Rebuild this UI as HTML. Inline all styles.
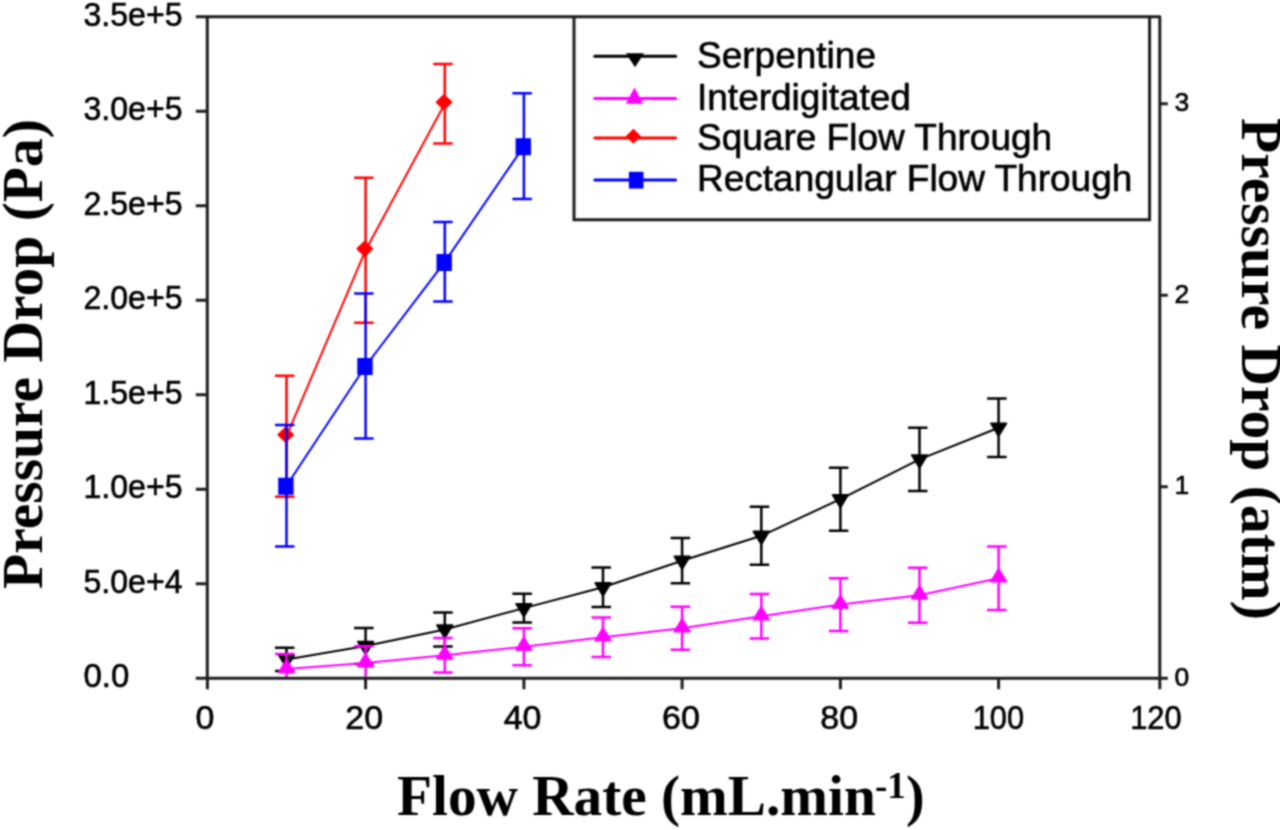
<!DOCTYPE html>
<html><head><meta charset="utf-8"><title>Pressure Drop vs Flow Rate</title>
<style>html,body{margin:0;padding:0;background:#fff;}body{width:1280px;height:830px;overflow:hidden;}svg{display:block;} #w{width:1280px;height:830px;}.s{font-family:"Liberation Sans",sans-serif;fill:#000;stroke:#000;stroke-width:0.6px;}.t{font-family:"Liberation Serif",serif;font-weight:bold;fill:#000;}</style></head><body>
<div id="w">
<svg width="1280" height="830" viewBox="0 0 1280 830">
<defs><filter id="bl" x="0" y="0" width="1280" height="830" filterUnits="userSpaceOnUse" color-interpolation-filters="sRGB"><feConvolveMatrix order="5" kernelMatrix="0.0019 0.0201 0.0439 0.0201 0.0019 0.0201 0.2096 0.4578 0.2096 0.0201 0.0439 0.4578 1.0000 0.4578 0.0439 0.0201 0.2096 0.4578 0.2096 0.0201 0.0019 0.0201 0.0439 0.0201 0.0019" divisor="4.0142" edgeMode="duplicate"/></filter></defs>
<g filter="url(#bl)">
<rect x="0" y="0" width="1280" height="830" fill="#fff"/>
<defs><clipPath id="pc"><rect x="207.3" y="16.7" width="952.5" height="661.5"/></clipPath></defs>
<g clip-path="url(#pc)">
<polyline points="286.5,659.4 365.6,646.0 444.8,629.5 523.9,608.1 603.0,587.3 682.1,560.7 761.3,535.8 840.4,499.2 919.5,459.4 998.6,427.7" fill="none" stroke="#000" stroke-width="2.0" stroke-linejoin="round"/>
<path d="M286.5 647.8V671.0M275.0 647.8h19.5M275.0 671.0h19.5M365.6 628.1V663.9M354.1 628.1h19.5M354.1 663.9h19.5M444.8 612.5V646.5M433.2 612.5h19.5M433.2 646.5h19.5M523.9 593.7V622.5M512.4 593.7h19.5M512.4 622.5h19.5M603.0 567.6V607.0M591.5 567.6h19.5M591.5 607.0h19.5M682.1 538.1V583.3M670.6 538.1h19.5M670.6 583.3h19.5M761.3 506.8V564.8M749.7 506.8h19.5M749.7 564.8h19.5M840.4 467.7V530.7M828.9 467.7h19.5M828.9 530.7h19.5M919.5 427.7V491.1M908.0 427.7h19.5M908.0 491.1h19.5M998.6 398.5V456.9M987.1 398.5h19.5M987.1 456.9h19.5" fill="none" stroke="#000" stroke-width="2.5"/>
<path d="M278.8 655.1L294.3 655.1L286.5 667.8ZM357.9 641.7L373.4 641.7L365.6 654.4ZM437.0 625.2L452.5 625.2L444.8 637.9ZM516.1 603.8L531.6 603.8L523.9 616.5ZM595.3 583.0L610.8 583.0L603.0 595.7ZM674.4 556.4L689.9 556.4L682.1 569.1ZM753.5 531.5L769.0 531.5L761.3 544.2ZM832.6 494.9L848.1 494.9L840.4 507.6ZM911.8 455.1L927.3 455.1L919.5 467.8ZM990.9 423.4L1006.4 423.4L998.6 436.1Z" fill="#000" stroke="#000" stroke-width="1.8" stroke-linejoin="round"/>
<polyline points="286.5,669.0 365.6,663.0 444.8,655.3 523.9,646.7 603.0,637.2 682.1,628.2 761.3,616.2 840.4,604.6 919.5,595.2 998.6,578.2" fill="none" stroke="#ff00ff" stroke-width="2.0" stroke-linejoin="round"/>
<path d="M286.5 654.1V683.9M275.0 654.1h19.5M275.0 683.9h19.5M365.6 646.2V679.8M354.1 646.2h19.5M354.1 679.8h19.5M444.8 638.0V672.6M433.2 638.0h19.5M433.2 672.6h19.5M523.9 628.2V665.2M512.4 628.2h19.5M512.4 665.2h19.5M603.0 617.5V656.9M591.5 617.5h19.5M591.5 656.9h19.5M682.1 606.7V649.7M670.6 606.7h19.5M670.6 649.7h19.5M761.3 594.0V638.4M749.7 594.0h19.5M749.7 638.4h19.5M840.4 578.2V631.0M828.9 578.2h19.5M828.9 631.0h19.5M919.5 567.7V622.7M908.0 567.7h19.5M908.0 622.7h19.5M998.6 546.5V609.9M987.1 546.5h19.5M987.1 609.9h19.5" fill="none" stroke="#ff00ff" stroke-width="2.5"/>
<path d="M278.8 672.5L294.3 672.5L286.5 659.8ZM357.9 666.5L373.4 666.5L365.6 653.8ZM437.0 658.8L452.5 658.8L444.8 646.1ZM516.1 650.2L531.6 650.2L523.9 637.5ZM595.3 640.7L610.8 640.7L603.0 628.0ZM674.4 631.7L689.9 631.7L682.1 619.0ZM753.5 619.7L769.0 619.7L761.3 607.0ZM832.6 608.1L848.1 608.1L840.4 595.4ZM911.8 598.7L927.3 598.7L919.5 586.0ZM990.9 581.7L1006.4 581.7L998.6 569.0Z" fill="#ff00ff" stroke="#ff00ff" stroke-width="1.8" stroke-linejoin="round"/>
<polyline points="286.5,436.2 365.6,250.3 444.8,103.8" fill="none" stroke="#ff0000" stroke-width="2.0" stroke-linejoin="round"/>
<path d="M286.5 375.7V496.7M275.0 375.7h19.5M275.0 496.7h19.5M365.6 177.8V322.8M354.1 177.8h19.5M354.1 322.8h19.5M444.8 64.0V143.6M433.2 64.0h19.5M433.2 143.6h19.5" fill="none" stroke="#ff0000" stroke-width="2.5"/>
<path d="M277.9 434.7L285.7 427.2L293.5 434.7L285.7 442.2ZM357.0 248.8L364.8 241.3L372.6 248.8L364.8 256.3ZM436.2 102.3L444.0 94.8L451.8 102.3L444.0 109.8Z" fill="#ff0000" stroke="#ff0000" stroke-width="1.2" stroke-linejoin="round"/>
<polyline points="286.5,485.7 365.6,366.0 444.8,261.8 523.9,146.2" fill="none" stroke="#0000ff" stroke-width="2.0" stroke-linejoin="round"/>
<path d="M286.5 425.0V546.4M275.0 425.0h19.5M275.0 546.4h19.5M365.6 293.5V438.5M354.1 293.5h19.5M354.1 438.5h19.5M444.8 222.0V301.6M433.2 222.0h19.5M433.2 301.6h19.5M523.9 93.3V199.1M512.4 93.3h19.5M512.4 199.1h19.5" fill="none" stroke="#0000ff" stroke-width="2.5"/>
<path d="M278.2 477.8h15.4v17h-15.4ZM357.3 358.1h15.4v17h-15.4ZM436.5 253.9h15.4v17h-15.4ZM515.6 138.3h15.4v17h-15.4Z" fill="#0000ff"/>
</g>
<path d="M207.3 16.7V678.2H1159.8V16.7Z" fill="none" stroke="#1e1e1e" stroke-width="3.0" stroke-linejoin="round"/>
<path d="M195.8 678.2H207.3M195.8 583.7H207.3M195.8 489.2H207.3M195.8 394.7H207.3M195.8 300.2H207.3M195.8 205.7H207.3M195.8 111.2H207.3M195.8 16.7H207.3M207.4 678.2V689.2M365.6 678.2V689.2M523.9 678.2V689.2M682.1 678.2V689.2M840.4 678.2V689.2M998.6 678.2V689.2M1159.8 678.2V689.2M1159.8 678.2H1167.8M1159.8 486.7H1167.8M1159.8 295.2H1167.8M1159.8 103.7H1167.8" fill="none" stroke="#1e1e1e" stroke-width="3.0"/>
<text class="s" x="83.5" y="687.2" font-size="33">0.0</text>
<text class="s" x="83.5" y="592.7" font-size="33" textLength="99" lengthAdjust="spacingAndGlyphs">5.0e+4</text>
<text class="s" x="83.5" y="498.2" font-size="33" textLength="99" lengthAdjust="spacingAndGlyphs">1.0e+5</text>
<text class="s" x="83.5" y="403.7" font-size="33" textLength="99" lengthAdjust="spacingAndGlyphs">1.5e+5</text>
<text class="s" x="83.5" y="309.2" font-size="33" textLength="99" lengthAdjust="spacingAndGlyphs">2.0e+5</text>
<text class="s" x="83.5" y="214.7" font-size="33" textLength="99" lengthAdjust="spacingAndGlyphs">2.5e+5</text>
<text class="s" x="83.5" y="120.2" font-size="33" textLength="99" lengthAdjust="spacingAndGlyphs">3.0e+5</text>
<text class="s" x="83.5" y="25.7" font-size="33" textLength="99" lengthAdjust="spacingAndGlyphs">3.5e+5</text>
<text class="s" x="205.0" y="729.3" font-size="34" text-anchor="middle">0</text>
<text class="s" x="364.2" y="729.3" font-size="34" text-anchor="middle">20</text>
<text class="s" x="522.6" y="729.3" font-size="34" text-anchor="middle">40</text>
<text class="s" x="680.9" y="729.3" font-size="34" text-anchor="middle">60</text>
<text class="s" x="839.2" y="729.3" font-size="34" text-anchor="middle">80</text>
<text class="s" x="998.4" y="729.3" font-size="34" text-anchor="middle" textLength="51.5" lengthAdjust="spacingAndGlyphs">100</text>
<text class="s" x="1155.9" y="729.3" font-size="34" text-anchor="middle" textLength="51.5" lengthAdjust="spacingAndGlyphs">120</text>
<text class="s" x="1174.5" y="685.8" font-size="26.5">0</text>
<text class="s" x="1174.5" y="494.3" font-size="26.5">1</text>
<text class="s" x="1174.5" y="302.8" font-size="26.5">2</text>
<text class="s" x="1174.5" y="111.3" font-size="26.5">3</text>
<path d="M574.0 16.7V219.8H1149.6V16.7" fill="none" stroke="#1e1e1e" stroke-width="3.0"/>
<path d="M594.8 56.2H675.6" stroke="#000" stroke-width="3" stroke-linecap="round"/>
<path d="M626.0 53.2L644.0 53.2L635.0 67.2Z" fill="#000"/>
<text class="s" x="697" y="68.3" font-size="37">Serpentine</text>
<path d="M594.8 98.4H675.6" stroke="#ff00ff" stroke-width="3" stroke-linecap="round"/>
<path d="M625.9 103.8L643.1 103.8L634.5 87.5Z" fill="#ff00ff"/>
<text class="s" x="697" y="109.8" font-size="37">Interdigitated</text>
<path d="M594.8 138.1H675.6" stroke="#ff0000" stroke-width="3" stroke-linecap="round"/>
<path d="M625.8 136.3L633.4 128.8L641.0 136.3L633.4 143.8Z" fill="#ff0000"/>
<text class="s" x="697" y="149.6" font-size="37">Square Flow Through</text>
<path d="M594.8 180.1H675.6" stroke="#0000ff" stroke-width="3" stroke-linecap="round"/>
<rect x="628.9" y="171.8" width="14.6" height="16.8" fill="#0000ff"/>
<text class="s" x="697" y="191.3" font-size="37">Rectangular Flow Through</text>
<text class="t" font-size="56" text-anchor="middle" transform="translate(42,354) rotate(-90) scale(1.028,1)">Pressure Drop (Pa)</text>
<text class="t" font-size="56" text-anchor="middle" transform="translate(1241.6,369) rotate(90) scale(1.028,1)">Pressure Drop (atm)</text>
<text class="t" font-size="56" transform="translate(397,815) scale(1.023,1)">Flow Rate (mL.min</text>
<text class="t" font-size="37" x="875" y="798">-1</text>
<text class="t" font-size="56" x="906" y="815">)</text>
</g>
</svg>
</div>
</body></html>
